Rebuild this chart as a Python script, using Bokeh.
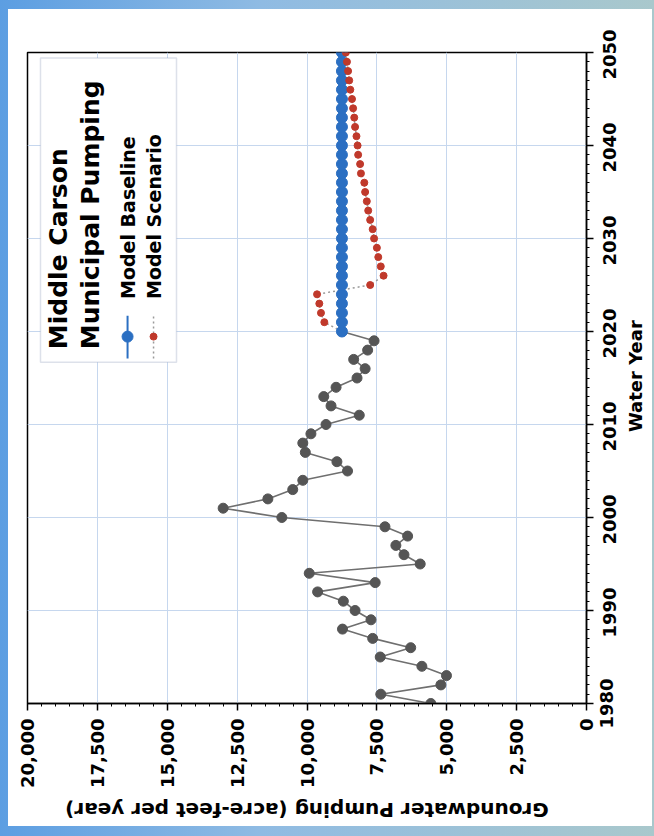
import math

from bokeh.embed import file_html
from bokeh.models import (BoxAnnotation, FixedTicker, Label, LinearAxis,
                          NumeralTickFormatter, Range1d)
from bokeh.plotting import figure
from bokeh.resources import INLINE

# ---- data: Middle Carson municipal groundwater pumping (acre-feet per year) ----
hist_years = list(range(1980, 2020))
hist_pumping = [
    5570, 7360, 5210, 5010, 5890, 7380, 6290, 7650, 8730, 7710,
    8280, 8700, 9620, 7560, 9920, 5950, 6530, 6820, 6400, 7210,
    10900, 13000, 11400, 10510, 10150, 8550, 8930, 10060, 10150, 9860,
    9320, 8130, 9140, 9400, 8960, 8210, 7920, 8330, 7830, 7600,
]

base_years = list(range(2020, 2051))
base_pumping = [
    8750, 8750, 8750, 8750, 8750, 8750, 8750, 8750, 8750, 8750,
    8750, 8750, 8750, 8750, 8750, 8750, 8750, 8750, 8750, 8750,
    8750, 8750, 8750, 8750, 8750, 8750, 8750, 8750, 8750, 8750,
    8750,
]

scen_years = list(range(2020, 2051))
scen_pumping = [
    8750, 9380, 9500, 9560, 9640, 7740, 7260, 7360, 7450, 7500,
    7600, 7650, 7740, 7810, 7860, 7920, 7950, 8070, 8100, 8170,
    8190, 8230, 8280, 8310, 8350, 8390, 8450, 8490, 8530, 8570,
    8610,
]

pump_ticks = [0, 2500, 5000, 7500, 10000, 12500, 15000, 17500, 20000]
year_ticks = [1980, 1990, 2000, 2010, 2020, 2030, 2040, 2050]

PUMP_LO, PUMP_HI = 0, 20000
YEAR_LO, YEAR_HI = 1980, 2050

FONT = "DejaVu Sans"
BLUE = "#2b6fc2"
RED = "#c0392b"

# The chart is laid out turned a quarter turn: pumping runs along the bottom
# (high values on the left) and water years run up the right-hand side.
p = figure(
    width=654, height=836,
    x_range=Range1d(PUMP_HI, PUMP_LO), y_range=Range1d(YEAR_LO, YEAR_HI),
    x_axis_location="below", y_axis_location="right",
    output_backend="svg", toolbar_location=None,
    min_border_left=27, min_border_top=52, min_border_right=68, min_border_bottom=133,
    background_fill_color="white", border_fill_color=None,
)
p.outline_line_color = "black"
p.outline_line_width = 1.5

# Rotated year labels and the pumping title are set as tick labels of helper
# axes whose ranges are shifted by half a label length, so each is centred.
YEAR_LABEL_SHIFT = 2.9      # years, half of a rotated "2050" plus its gap
PUMP_TITLE_SHIFT = 8650     # acre-feet, half of the upside-down pumping title
p.extra_y_ranges = {
    "year_labels": Range1d(YEAR_LO + YEAR_LABEL_SHIFT, YEAR_HI + YEAR_LABEL_SHIFT),
}
p.extra_x_ranges = {
    "pump_title": Range1d(PUMP_HI - PUMP_TITLE_SHIFT, PUMP_LO - PUMP_TITLE_SHIFT),
}

p.xaxis.ticker = FixedTicker(ticks=pump_ticks, minor_ticks=list(range(0, 20001, 500)))
p.yaxis.ticker = FixedTicker(ticks=year_ticks, minor_ticks=list(range(1980, 2051)))
p.xaxis.formatter = NumeralTickFormatter(format="0,0")
for ax in (p.xaxis, p.yaxis):
    ax.major_label_text_font = FONT
    ax.major_label_text_font_style = "bold"
    ax.major_label_text_font_size = "18px"
    ax.major_label_text_color = "black"
    ax.axis_line_color = "black"
    ax.axis_line_width = 1.5
    ax.major_tick_line_color = "black"
    ax.major_tick_line_width = 1.5
    ax.minor_tick_line_color = "black"
    ax.major_tick_out = 7
    ax.major_tick_in = 0
    ax.minor_tick_out = 3
    ax.minor_tick_in = 0
    ax.major_label_orientation = math.pi / 2
p.xaxis.major_label_standoff = 8
# the year axis itself only carries the line and ticks
p.yaxis.major_label_text_font_size = "1px"
p.yaxis.major_label_text_color = None
p.yaxis.major_label_standoff = 0


def text_axis(range_name, ticks, overrides, size, standoff, orientation, side):
    kw = {"y_range_name": range_name} if side == "right" else {"x_range_name": range_name}
    ax = LinearAxis(ticker=FixedTicker(ticks=ticks), major_label_overrides=overrides,
                    axis_line_color=None, major_tick_line_color=None,
                    minor_tick_line_color=None, major_tick_out=0, major_tick_in=0,
                    minor_tick_out=0, minor_tick_in=0,
                    major_label_standoff=standoff,
                    major_label_orientation=orientation,
                    major_label_text_font=FONT, major_label_text_font_style="bold",
                    major_label_text_font_size=size, major_label_text_color="black",
                    **kw)
    p.add_layout(ax, side)
    return ax


text_axis("year_labels", year_ticks[1:], {}, "18px", 16, math.pi / 2, "right")
text_axis("pump_title", [10000], {10000: "Groundwater Pumping (acre-feet per year)"},
          "20px", 19, math.pi, "below")

# the first year label and the year title sit in side panels of their own,
# placed in data units beside the year axis
YEAR_LABEL_X = -720         # acre-feet position of the year label column
YEAR_TITLE_X = -1750        # acre-feet position of the "Water Year" title
p.add_layout(Label(x=YEAR_LABEL_X, y=year_ticks[0], text=str(year_ticks[0]),
                   angle=math.pi / 2, text_align="center", text_baseline="middle",
                   text_font=FONT, text_font_style="bold", text_font_size="18px",
                   text_color="black"), "above")
p.add_layout(Label(x=YEAR_TITLE_X, y=2015.2, text="Water Year",
                   angle=math.pi / 2, text_align="center", text_baseline="middle",
                   text_font=FONT, text_font_style="bold", text_font_size="18px",
                   text_color="black"), "left")

p.xgrid.ticker = FixedTicker(ticks=pump_ticks)
p.ygrid.ticker = FixedTicker(ticks=year_ticks)
p.grid.grid_line_color = "#c6d7ee"
p.grid.grid_line_width = 1

# legend box sits beneath the legend swatches
p.add_layout(BoxAnnotation(left=19535, right=14669, top=2049.4, bottom=2016.7,
                           fill_color="white", fill_alpha=1.0, level="underlay",
                           line_color="#8d9bb8", line_width=1.5))

# historical record
p.line(hist_pumping + [base_pumping[0]], hist_years + [base_years[0]],
       line_color="#6f6f6f", line_width=1.6)
p.scatter(hist_pumping, hist_years, marker="circle", size=10,
          fill_color="#555555", line_color="#555555")

# projections
p.line(scen_pumping, scen_years, line_color="#9a9a9a", line_width=1.5, line_dash="2 3")
p.line(base_pumping, base_years, line_color=BLUE, line_width=2)
p.scatter(base_pumping, base_years, marker="circle", size=11,
          fill_color=BLUE, line_color=BLUE)
p.scatter(scen_pumping[1:], scen_years[1:], marker="circle", size=7,
          fill_color=RED, line_color=RED)

# legend, drawn turned with the rest of the chart
for xv, txt in ((18890, "Middle Carson"), (17745, "Municipal Pumping")):
    p.add_layout(Label(x=xv, y=2018.1, text=txt, angle=math.pi / 2,
                       text_align="left", text_baseline="middle",
                       text_font=FONT, text_font_style="bold", text_font_size="25px",
                       text_color="black"))
for xv, txt in ((16420, "Model Baseline"), (15490, "Model Scenario")):
    p.add_layout(Label(x=xv, y=2023.5, text=txt, angle=math.pi / 2,
                       text_align="left", text_baseline="middle",
                       text_font=FONT, text_font_style="bold", text_font_size="19px",
                       text_color="black"))
p.segment(x0=[16420], y0=[2017.1], x1=[16420], y1=[2021.7], line_color=BLUE, line_width=2)
p.scatter([16420], [2019.45], marker="circle", size=11, fill_color=BLUE, line_color=BLUE)
p.segment(x0=[15490], y0=[2017.1], x1=[15490], y1=[2021.7], line_color="#9a9a9a",
          line_width=1.5, line_dash="2 3")
p.scatter([15490], [2019.45], marker="circle", size=7, fill_color=RED, line_color=RED)

# white sheet on a blue slide background, behind the transparent canvas border
p.styles = {
    "background": ("linear-gradient(#ffffff, #ffffff) 8px 9px / 644px 817px no-repeat, "
                   "linear-gradient(90deg, #5c9ee2 0%, #8fbbe3 40%, #a9c8cc 100%)"),
}

open("out.html", "w").write(file_html(p, INLINE))
